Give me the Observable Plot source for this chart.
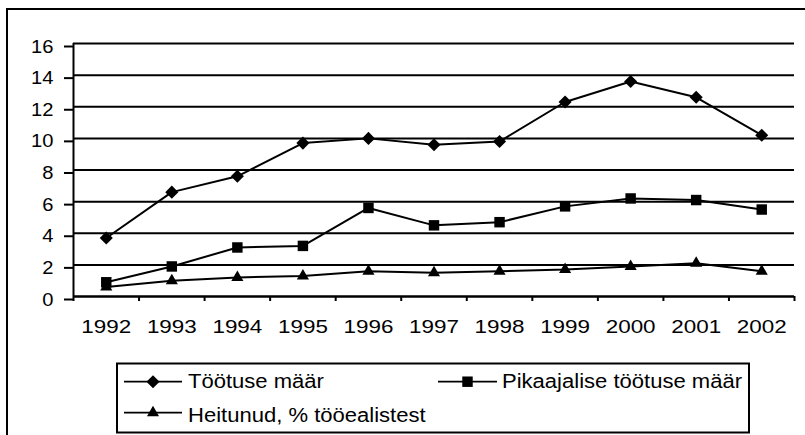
<!DOCTYPE html>
<html><head><meta charset="utf-8">
<script src="https://cdn.jsdelivr.net/npm/d3@7"></script>
<script src="https://cdn.jsdelivr.net/npm/@observablehq/plot@0.6"></script>
<style>
html,body{margin:0;padding:0;background:#fff;}
#wrap{position:relative;width:805px;height:435px;overflow:hidden;font-family:"Liberation Sans",Arial,sans-serif;}
#border{position:absolute;left:6px;top:8px;width:830px;height:460px;border:2px solid #000;box-sizing:border-box;}
#chart{position:absolute;left:0;top:0;}
#legend{position:absolute;left:0;top:350px;}
</style></head><body>
<div id="wrap"><div id="border"></div><div id="chart"></div><svg id="legend" width="805" height="85"></svg></div>
<script>
const years = [1992, 1993, 1994, 1995, 1996, 1997, 1998, 1999, 2000, 2001, 2002];
const seriesNames = ["Töötuse määr", "Pikaajalise töötuse määr", "Heitunud, % tööealistest"];
const tootuseMaar = [3.7, 6.6, 7.6, 9.7, 10.0, 9.6, 9.8, 12.3, 13.6, 12.6, 10.2];
const pikaajalineMaar = [0.9, 1.9, 3.1, 3.2, 5.6, 4.5, 4.7, 5.7, 6.2, 6.1, 5.5];
const heitunud = [0.6, 1.0, 1.2, 1.3, 1.6, 1.5, 1.6, 1.7, 1.9, 2.1, 1.6];
const yTicks = [0, 2, 4, 6, 8, 10, 12, 14, 16];
const symbols = ["diamond2", "square", "triangle"];
const radii = [5.9, 5.9, 4.5];

const xBounds = years.map(y => y - 0.5).concat([years[years.length - 1] + 0.5]);
const data = [];
[tootuseMaar, pikaajalineMaar, heitunud].forEach((vals, i) =>
  vals.forEach((v, j) => data.push({series: seriesNames[i], year: years[j], value: v})));

const chart = Plot.plot({
  width: 805, height: 350,
  marginLeft: 73, marginRight: 11, marginTop: 43, marginBottom: 54,
  style: {fontFamily: '"Liberation Sans", Arial, sans-serif', fontSize: "19px", background: "transparent", color: "#000"},
  x: {domain: [xBounds[0], xBounds[xBounds.length - 1]]},
  y: {domain: [0, 16]},
  marks: [
    Plot.gridY({ticks: yTicks, stroke: "#000", strokeOpacity: 1, strokeWidth: 2}),
    Plot.ruleX([xBounds[0]], {y1: 0, y2: 16, stroke: "#000", strokeWidth: 2}),
    Plot.ruleY([0], {stroke: "#000", strokeWidth: 2}),
    Plot.axisY({ticks: yTicks, tickSize: 9, tickPadding: 11, dy: 3, fontSize: 19, strokeWidth: 2, label: null}),
    Plot.axisX({ticks: xBounds, tickSize: 5, tickFormat: () => "", strokeWidth: 2, label: null}),
    Plot.axisX({ticks: years, tickSize: 0, tickPadding: 23, tickFormat: d => String(d), fontSize: 19, label: null}),
    Plot.line(data, {x: "year", y: "value", z: "series", stroke: "#000", strokeWidth: 2}),
    ...seriesNames.map((s, i) => Plot.dot(data.filter(d => d.series === s),
      {x: "year", y: "value", symbol: symbols[i], r: radii[i], fill: "#000", stroke: "none"}))
  ]
});
document.getElementById("chart").appendChild(chart);

// horizontally stretched tick labels (as in the reference)
function stretch(sel, k) {
  chart.querySelectorAll(sel).forEach(t => {
    const len = t.getComputedTextLength();
    if (len > 0) { t.setAttribute("textLength", len * k); t.setAttribute("lengthAdjust", "spacingAndGlyphs"); }
  });
}
stretch('g[aria-label="x-axis tick label"] text', 1.18);
stretch('g[aria-label="y-axis tick label"] text', 1.06);

// legend
const lg = d3.select("#legend");
lg.append("rect").attr("x", 117).attr("y", 13.5).attr("width", 632).attr("height", 69)
  .attr("fill", "#fff").attr("stroke", "#000").attr("stroke-width", 2);
const d3sym = {diamond2: d3.symbolDiamond2, square: d3.symbolSquare, triangle: d3.symbolTriangle};
const items = [
  {x1: 124, x2: 182, y: 31.7, tx: 188, ty: 38.3},
  {x1: 438, x2: 497, y: 31.7, tx: 502, ty: 38.3},
  {x1: 124, x2: 182, y: 62.7, tx: 188, ty: 71.7}
];
items.forEach((it, i) => {
  lg.append("line").attr("x1", it.x1).attr("x2", it.x2).attr("y1", it.y).attr("y2", it.y)
    .attr("stroke", "#000").attr("stroke-width", 1.8);
  lg.append("path").attr("d", d3.symbol(d3sym[symbols[i]], Math.PI * radii[i] * radii[i])())
    .attr("transform", `translate(${(it.x1 + it.x2) / 2},${it.y})`).attr("fill", "#000");
  const t = lg.append("text").attr("x", it.tx).attr("y", it.ty)
    .attr("font-family", '"Liberation Sans", Arial, sans-serif').attr("font-size", 19.5)
    .attr("fill", "#000").text(seriesNames[i]);
  const len = t.node().getComputedTextLength();
  t.attr("textLength", len * 1.13).attr("lengthAdjust", "spacingAndGlyphs");
});
</script>
</body></html>
